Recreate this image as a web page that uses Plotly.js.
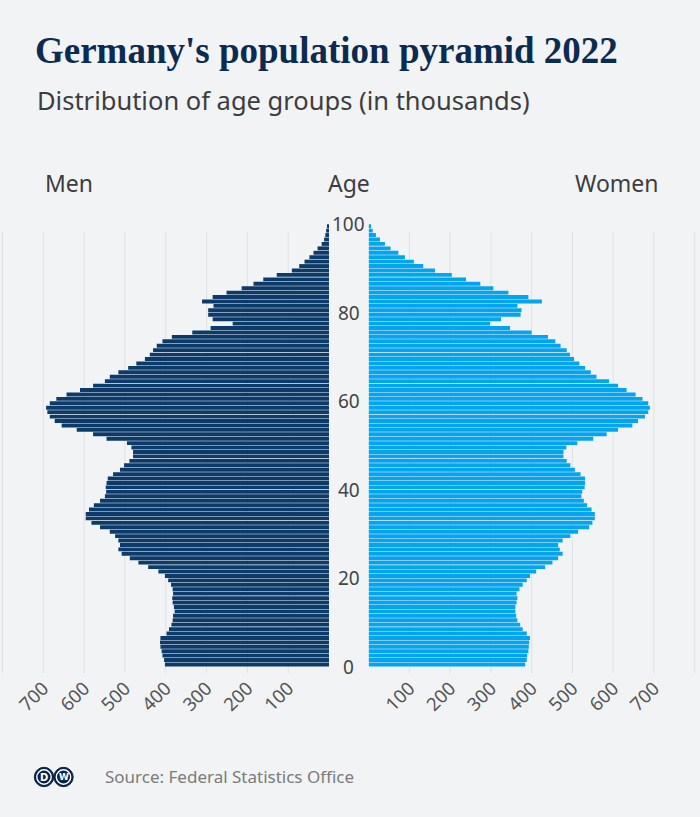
<!DOCTYPE html>
<html><head><meta charset="utf-8">
<script src="https://cdn.plot.ly/plotly-3.0.1.min.js"></script>
<style>html,body{margin:0;padding:0;background:#f1f3f5;}#chart{width:700px;height:817px;}</style>
</head><body><div id="chart"></div>
<script>
const ages = [0,1,2,3,4,5,6,7,8,9,10,11,12,13,14,15,16,17,18,19,20,21,22,23,24,25,26,27,28,29,30,31,32,33,34,35,36,37,38,39,40,41,42,43,44,45,46,47,48,49,50,51,52,53,54,55,56,57,58,59,60,61,62,63,64,65,66,67,68,69,70,71,72,73,74,75,76,77,78,79,80,81,82,83,84,85,86,87,88,89,90,91,92,93,94,95,96,97,98,99];
const men = [402,404,408,410,413,414,413,398,392,386,383,382,378,380,383,384,382,383,387,394,402,418,443,467,488,508,516,512,516,524,537,561,582,596,596,588,576,561,549,546,547,545,542,529,512,502,489,480,480,484,495,545,578,618,655,672,684,690,693,684,668,643,610,578,549,537,516,492,472,451,439,431,422,408,385,335,290,236,285,296,296,283,311,285,251,214,185,161,128,91,73,60,48,38,28,18,12,9,7,5];
const women = [384,388,389,392,393,394,396,388,378,372,365,362,360,360,363,365,363,370,378,388,396,411,433,451,465,476,469,465,476,495,514,541,549,555,555,547,536,528,522,524,530,531,531,520,506,495,486,478,478,485,512,551,584,612,647,661,678,686,690,686,672,655,633,612,590,559,545,531,517,504,494,486,471,458,440,400,347,298,325,373,375,365,425,392,343,306,274,239,204,163,134,111,89,73,54,40,28,18,10,6];
const valueTicks = [100,200,300,400,500,600,700,800];
const valueTickLabels = ['100','200','300','400','500','600','700',''];
const ageTicks = [0,20,40,60,80,100];
const ageTickLabels = ['0','20','40','60','80','100'];
const titleText = "Germany's population pyramid 2022";
const subtitleText = 'Distribution of age groups (in thousands)';
const menLabel = 'Men', womenLabel = 'Women', ageLabel = 'Age';
const sourceText = 'Source: Federal Statistics Office';

const W = 700, H = 817, T = 222, B = 144;
const plotBottom = H - B, plotH = H - T - B;
const py = p => (plotBottom - p) / plotH;   // pixel row -> paper y
const px = p => p / W;                      // pixel col -> paper x

const SANS = 'Noto Sans, Open Sans, sans-serif';
const MEN_C = '#0c3a69', WOMEN_C = '#04a4ef', GRID = '#dfe2e6';

const traces = [
  {type:'bar', orientation:'h', y:ages, x:men, xaxis:'x', yaxis:'y',
   marker:{color:MEN_C, line:{width:0}}, width:0.88, offset:0.06, hoverinfo:'x+y', showlegend:false},
  {type:'bar', orientation:'h', y:ages, x:women, xaxis:'x2', yaxis:'y',
   marker:{color:WOMEN_C, line:{width:0}}, width:0.88, offset:0.06, hoverinfo:'x+y', showlegend:false}
];

const xCommon = {
  tickmode:'array', tickvals:valueTicks, ticktext:valueTickLabels, tickangle:-45,
  showgrid:false, zeroline:false, showline:false, ticks:'',
  tickfont:{family:SANS, size:18.5, color:'#555'}, fixedrange:true
};
const gridTop = py(232);
const shapes = [];
valueTicks.forEach(v => {
  shapes.push({type:'line', layer:'below', xref:'x', yref:'paper', x0:v, x1:v, y0:0, y1:gridTop, line:{color:GRID, width:1}});
  shapes.push({type:'line', layer:'below', xref:'x2', yref:'paper', x0:v, x1:v, y0:0, y1:gridTop, line:{color:GRID, width:1}});
});
// DW logo
const logoY = 777, r = 9.7;
[44, 63.5].forEach(cx => {
  shapes.push({type:'circle', xref:'paper', yref:'paper', x0:px(cx-r), x1:px(cx+r), y0:py(logoY+r), y1:py(logoY-r), fillcolor:'#0a2447', line:{color:'#0a2447', width:1}});
  shapes.push({type:'circle', xref:'paper', yref:'paper', x0:px(cx-7.2), x1:px(cx+7.2), y0:py(logoY+7.2), y1:py(logoY-7.2), fillcolor:'rgba(0,0,0,0)', line:{color:'#ffffff', width:1.4}});
});

const annotations = [
  {text:subtitleText, xref:'paper', yref:'paper', x:px(35), y:py(100), xanchor:'left', yanchor:'middle', showarrow:false, font:{family:SANS, size:25.5, color:'#3d3d3d'}},
  {text:menLabel, xref:'paper', yref:'paper', x:px(43), y:py(183), xanchor:'left', yanchor:'middle', showarrow:false, font:{family:SANS, size:23, color:'#3d3d3d'}},
  {text:ageLabel, xref:'paper', yref:'paper', x:px(349), y:py(183), xanchor:'center', yanchor:'middle', showarrow:false, font:{family:SANS, size:23, color:'#3d3d3d'}},
  {text:womenLabel, xref:'paper', yref:'paper', x:px(661), y:py(183), xanchor:'right', yanchor:'middle', showarrow:false, font:{family:SANS, size:23, color:'#3d3d3d'}},
  {text:sourceText, xref:'paper', yref:'paper', x:px(103), y:py(776), xanchor:'left', yanchor:'middle', showarrow:false, font:{family:SANS, size:17, color:'#7b7b7b'}},
  {text:'<b>D</b>', xref:'paper', yref:'paper', x:px(44), y:py(logoY), xanchor:'center', yanchor:'middle', showarrow:false, font:{family:'DejaVu Sans', size:10, color:'#ffffff'}},
  {text:'<b>W</b>', xref:'paper', yref:'paper', x:px(63.5), y:py(logoY), xanchor:'center', yanchor:'middle', showarrow:false, font:{family:'DejaVu Sans', size:9, color:'#ffffff'}}
];
ageTicks.forEach((a, i) => {
  annotations.push({text:ageTickLabels[i], xref:'paper', yref:'y', x:px(348.5), y:a, xanchor:'center', yanchor:'middle', showarrow:false, font:{family:SANS, size:19, color:'#444'}});
});

const layout = {
  width:W, height:H, paper_bgcolor:'#f1f3f5', plot_bgcolor:'rgba(0,0,0,0)',
  margin:{l:0, r:0, t:T, b:B, pad:0},
  title:{text:titleText, xref:'container', yref:'container', x:px(35), xanchor:'left', y:1-50/H, yanchor:'middle',
         font:{family:'Liberation Serif, serif', size:37, color:'#0b2b50', weight:700}},
  xaxis:Object.assign({}, xCommon, {domain:[0, px(329)], range:[806, 0], anchor:'y'}),
  xaxis2:Object.assign({}, xCommon, {domain:[px(368.6), 1], range:[0, 813], anchor:'y'}),
  yaxis:{range:[-1.42, 100.45], showticklabels:false, showgrid:false, zeroline:false, showline:false, ticks:'', fixedrange:true},
  bargap:0.2, shapes:shapes, annotations:annotations, showlegend:false
};
Plotly.newPlot('chart', traces, layout, {displayModeBar:false, staticPlot:true});
</script></body></html>
